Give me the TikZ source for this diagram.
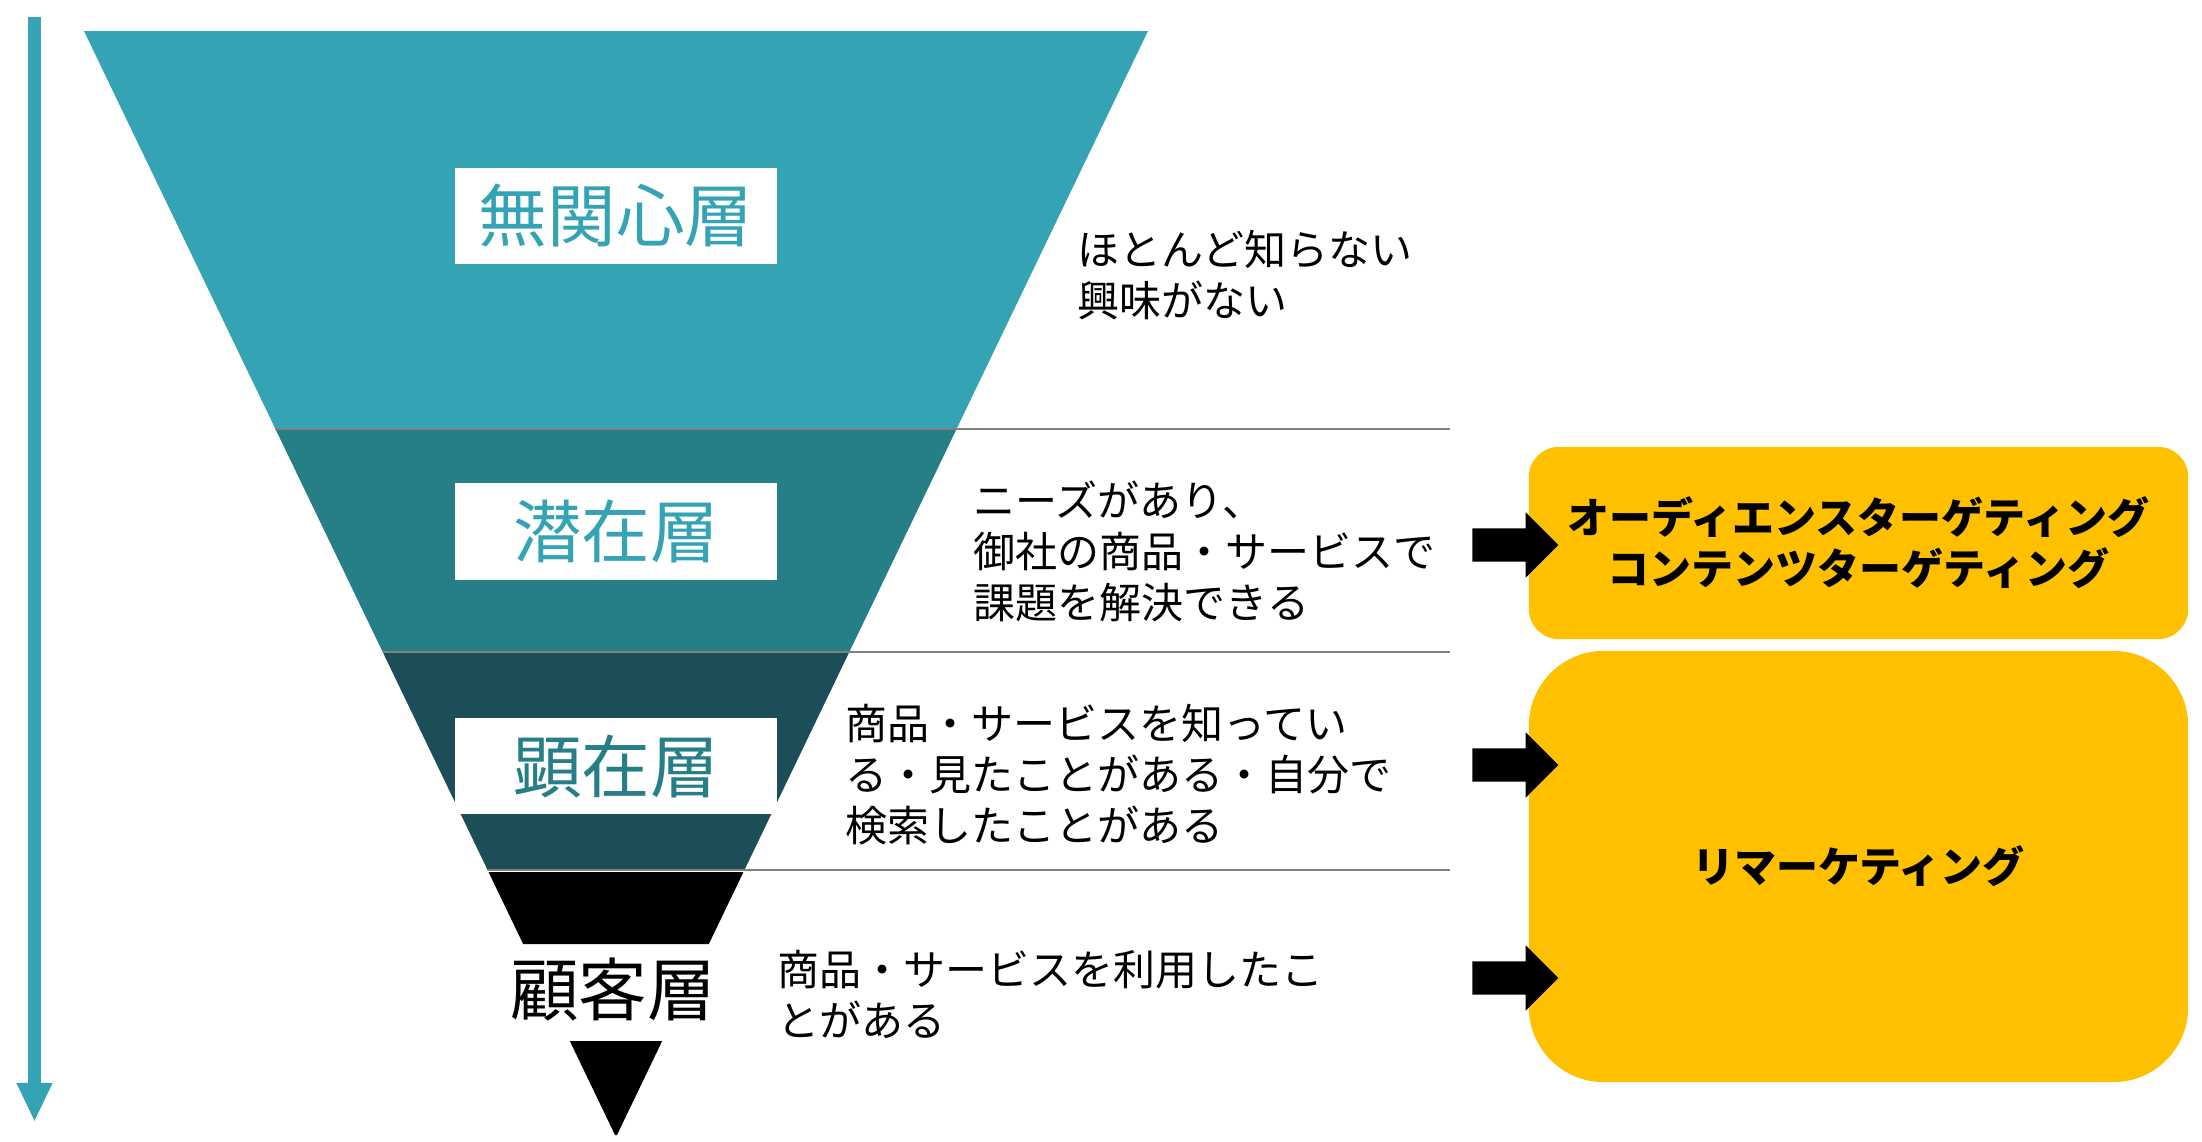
\documentclass[tikz,border=0pt]{standalone}
\usepackage{fontspec}
\setmainfont{Noto Sans CJK JP}
\usepackage{xcolor}
\usepackage{tikz}
\usetikzlibrary{arrows.meta,shapes.arrows}
\definecolor{tealA}{HTML}{34A4B4}
\definecolor{tealB}{HTML}{267E87}
\definecolor{tealC}{HTML}{1B4E56}
\definecolor{accy}{HTML}{FFC000}
\definecolor{sepg}{HTML}{808080}
\tikzset{
  flowar/.style={-{Triangle[length=3.9mm,width=3.3mm]},line width=1.3mm,tealA},
  lay/.style={fill=white,minimum width=3.22cm,minimum height=0.96cm,inner sep=0pt,font=\fontsize{19.5}{23}\selectfont},
  desc/.style={anchor=west,align=left,inner sep=0pt,font=\fontsize{11.95}{14.5}\selectfont},
  ybox/.style={fill=accy,minimum width=6.59cm,align=center,font=\fontsize{11.95}{14.5}\selectfont\bfseries},
  blk/.style={single arrow,fill=black,minimum height=0.86cm,single arrow head extend=0.16cm,single arrow head indent=0pt,inner xsep=0pt,inner ysep=0.16cm},
  sep/.style={sepg,line width=0.2mm}
}

\begin{document}
\begin{tikzpicture}[x=0.01cm,y=-0.01cm]
\useasboundingbox (0,0) rectangle (2202,1142);
% funnel
\foreach \ya/\yb/\cc in {31/429/tealA,429/652/tealB,652/870/tealC,872/944/black,1041/1135/black}{
 \fill[\cc] ({84+0.481*(\ya-31)},\ya) -- ({1148-0.481*(\ya-31)},\ya) -- ({1148-0.481*(\yb-31)},\yb) -- ({84+0.481*(\yb-31)},\yb) -- cycle;}
\foreach \yy in {429,652,870}
 \draw[sep] ({84+0.481*(\yy-31)},\yy) -- (1450,\yy);
% layer names
\node[lay,text=tealA] (mukan) at (616,216) {無関心層};
\node[lay,text=tealA] (senz) at (616,531.5) {潜在層};
\node[lay,text=tealB] (kenz) at (616,766) {顕在層};
\node[font=\fontsize{19.5}{23}\selectfont] (kokyaku) at (613,989) {顧客層};
% descriptions
\node[desc] (dmukan) at (1077,275) {ほとんど知らない\\興味がない};
\node[desc] (dsenz) at (973,551.5) {ニーズがあり、\\御社の商品・サービスで\\課題を解決できる};
\node[desc] (dkenz) at (845,774.5) {商品・サービスを知ってい\\る・見たことがある・自分で\\検索したことがある};
\node[desc] (dkokyaku) at (777,994.5) {商品・サービスを利用したこ\\とがある};
% measures
\node[ybox,minimum height=1.92cm,rounded corners=0.3cm] (tgt) at (1858.5,543) {オーディエンスターゲティング\\コンテンツターゲティング};
\node[ybox,minimum height=4.31cm,rounded corners=0.75cm] (remk) at (1858.5,866.5) {リマーケティング};
\node[blk] (ar1) at (1507,545) {};
\node[blk] (ar2) at (1507,765) {};
\node[blk] (ar3) at (1507,978) {};
% flow
\coordinate (ftop) at (34.5,17);
\coordinate (fbot) at (34.5,1122);
\draw[flowar] (ftop) -- (fbot);
\end{tikzpicture}
\end{document}
